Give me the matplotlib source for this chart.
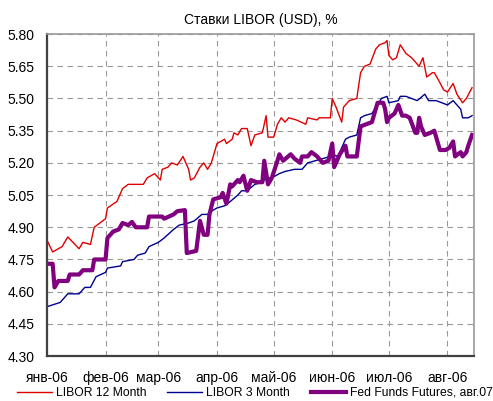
import numpy as np
import pandas as pd
import matplotlib
matplotlib.use('Agg')
import matplotlib.pyplot as plt

plt.rcParams['font.family'] = ['Liberation Sans', 'DejaVu Sans']

# data (2006)
libor12_dates = ['01-01', '01-04', '01-09', '01-12', '01-18', '01-20', '01-24', '01-26',
                 '02-01', '02-02', '02-07', '02-10', '02-13', '02-21', '02-23', '02-27',
                 '03-02', '03-03', '03-06', '03-08', '03-11', '03-14', '03-17', '03-18',
                 '03-20', '03-23', '03-25', '03-27', '03-29', '03-31', '04-01', '04-05',
                 '04-06', '04-09', '04-10', '04-12', '04-14', '04-17', '04-19', '04-21',
                 '04-25', '04-27', '04-28', '05-01', '05-03', '05-05', '05-07', '05-09',
                 '05-13', '05-18', '05-19', '05-24', '05-25', '05-31', '06-01', '06-03',
                 '06-06', '06-07', '06-09', '06-10', '06-14', '06-16', '06-18', '06-21',
                 '06-24', '06-26', '06-29', '06-30', '07-01', '07-03', '07-05', '07-07',
                 '07-10', '07-13', '07-16', '07-17', '07-19', '07-21', '07-24', '07-25',
                 '07-27', '07-30', '08-01', '08-04', '08-06', '08-09', '08-11', '08-14']
libor12 = [4.84, 4.785, 4.81, 4.855, 4.80, 4.83, 4.82, 4.90,
           4.94, 4.99, 5.02, 5.08, 5.10, 5.10, 5.13, 5.15,
           5.12, 5.17, 5.18, 5.20, 5.19, 5.23, 5.17, 5.12,
           5.13, 5.18, 5.20, 5.17, 5.20, 5.26, 5.29, 5.31,
           5.29, 5.31, 5.34, 5.33, 5.36, 5.36, 5.28, 5.33,
           5.34, 5.42, 5.32, 5.32, 5.38, 5.41, 5.39, 5.41,
           5.40, 5.38, 5.41, 5.40, 5.41, 5.41, 5.50, 5.46,
           5.39, 5.46, 5.48, 5.49, 5.50, 5.62, 5.65, 5.66,
           5.73, 5.75, 5.76, 5.77, 5.70, 5.68, 5.69, 5.75,
           5.71, 5.69, 5.66, 5.65, 5.69, 5.60, 5.62, 5.62,
           5.59, 5.54, 5.53, 5.57, 5.52, 5.48, 5.50, 5.55]

libor3_dates = ['01-01', '01-08', '01-12', '01-18', '01-21', '01-24', '01-27', '02-01',
                '02-02', '02-09', '02-10', '02-16', '02-18', '02-22', '02-24', '03-01',
                '03-04', '03-09', '03-12', '03-17', '03-20', '03-24', '03-27', '03-30',
                '04-01', '04-05', '04-08', '04-12', '04-14', '04-17', '04-21', '04-25',
                '04-27', '04-30', '05-04', '05-07', '05-12', '05-16', '05-19', '05-23',
                '05-27', '05-31', '06-01', '06-04', '06-08', '06-10', '06-14', '06-16',
                '06-18', '06-22', '06-25', '06-27', '06-30', '07-01', '07-06', '07-07',
                '07-10', '07-13', '07-16', '07-20', '07-22', '07-26', '07-29', '08-01',
                '08-04', '08-08', '08-09', '08-12', '08-14']
libor3 = [4.53, 4.55, 4.59, 4.59, 4.62, 4.62, 4.67, 4.69,
          4.71, 4.72, 4.74, 4.75, 4.77, 4.78, 4.81, 4.83,
          4.85, 4.89, 4.91, 4.92, 4.93, 4.96, 4.96, 4.98,
          4.99, 5.00, 5.02, 5.05, 5.07, 5.07, 5.10, 5.11,
          5.13, 5.13, 5.15, 5.16, 5.17, 5.17, 5.20, 5.21,
          5.22, 5.23, 5.24, 5.23, 5.31, 5.32, 5.33, 5.41,
          5.42, 5.43, 5.47, 5.50, 5.51, 5.48, 5.49, 5.51,
          5.51, 5.50, 5.49, 5.52, 5.49, 5.49, 5.48, 5.47,
          5.49, 5.45, 5.41, 5.41, 5.42]

fff_dates = ['01-01', '01-04', '01-05', '01-07', '01-12', '01-13', '01-18', '01-20',
             '01-25', '01-26', '02-01', '02-02', '02-05', '02-08', '02-10', '02-13',
             '02-15', '02-17', '02-23', '02-24', '03-03', '03-04', '03-09', '03-11',
             '03-15', '03-16', '03-21', '03-23', '03-25', '03-27', '03-28', '03-30',
             '04-03', '04-04', '04-06', '04-08', '04-09', '04-12', '04-13', '04-15',
             '04-17', '04-19', '04-22', '04-25', '04-26', '04-28', '04-30', '05-03',
             '05-04', '05-06', '05-10', '05-12', '05-15', '05-16', '05-19', '05-21',
             '05-24', '05-27', '05-30', '06-01', '06-02', '06-05', '06-08', '06-09',
             '06-14', '06-16', '06-19', '06-22', '06-24', '06-25', '06-28', '06-29',
             '06-30', '07-01', '07-04', '07-06', '07-08', '07-10', '07-12', '07-15',
             '07-16', '07-17', '07-18', '07-20', '07-23', '07-25', '07-28', '07-31',
             '08-02', '08-04', '08-05', '08-08', '08-09', '08-11', '08-12', '08-14']
fff = [4.73, 4.73, 4.62, 4.65, 4.65, 4.68, 4.68, 4.70,
       4.70, 4.75, 4.75, 4.85, 4.88, 4.89, 4.92, 4.91,
       4.925, 4.90, 4.90, 4.95, 4.95, 4.94, 4.96, 4.975,
       4.98, 4.78, 4.79, 4.93, 4.865, 4.865, 4.96, 5.03,
       5.04, 5.06, 5.01, 5.10, 5.09, 5.12, 5.11, 5.14,
       5.07, 5.12, 5.11, 5.11, 5.21, 5.10, 5.13, 5.21,
       5.24, 5.21, 5.24, 5.22, 5.20, 5.23, 5.23, 5.25,
       5.23, 5.20, 5.21, 5.29, 5.18, 5.24, 5.28, 5.23,
       5.23, 5.37, 5.38, 5.39, 5.45, 5.48, 5.48, 5.45,
       5.39, 5.41, 5.43, 5.47, 5.42, 5.42, 5.41, 5.34,
       5.34, 5.41, 5.37, 5.33, 5.34, 5.35, 5.26, 5.26,
       5.27, 5.30, 5.23, 5.25, 5.23, 5.25, 5.28, 5.33]

month_labels = ['янв-06', 'фев-06', 'мар-06', 'апр-06', 'май-06', 'июн-06', 'июл-06', 'авг-06']
y_ticks = np.arange(4.30, 5.81, 0.15)


def to_dates(lst):
  return pd.to_datetime(['2006-' + s for s in lst])


fig = plt.figure(figsize=(4.93, 4.01), dpi=100)
ax = fig.add_axes([0.0953, 0.112, 0.866, 0.803])

ax.plot(to_dates(libor12_dates), libor12, color='#e00000', lw=1.0, label='LIBOR 12 Month')
ax.plot(to_dates(libor3_dates), libor3, color='#000090', lw=1.0, label='LIBOR 3 Month')
ax.plot(to_dates(fff_dates), fff, color='#800080', lw=3.0, label='Fed Funds Futures, авг.07')

# axes
ax.set_xlim(pd.Timestamp('2006-01-01'), pd.Timestamp('2006-08-15'))
ax.set_ylim(4.30, 5.80)
ax.set_yticks(y_ticks)
ax.set_yticklabels([f'{v:.2f}' for v in y_ticks])
ax.set_xticks(pd.date_range('2006-01-01', periods=8, freq='MS'))
ax.set_xticklabels(month_labels)
ax.tick_params(axis='both', length=0, labelsize=10, colors='black')
ax.tick_params(axis='x', pad=11)
ax.tick_params(axis='y', pad=9)
ax.grid(True, color='#999999', linestyle=(0, (5, 4)), lw=0.8)
for s in ['left', 'bottom']:
  ax.spines[s].set_color('#404040')
  ax.spines[s].set_linewidth(1.6)
for s in ['top', 'right']:
  ax.spines[s].set_color('#999999')
  ax.spines[s].set_linewidth(1.2)

ax.set_title('Ставки LIBOR (USD), %', fontsize=10, pad=7)

fig.legend(loc='center', bbox_to_anchor=(0.517, 0.02), ncol=3, frameon=False,
           fontsize=8.7, handlelength=2.9, columnspacing=1.75, handletextpad=0.33,
           borderpad=0, borderaxespad=0)

fig.savefig('out.png', dpi=100)
